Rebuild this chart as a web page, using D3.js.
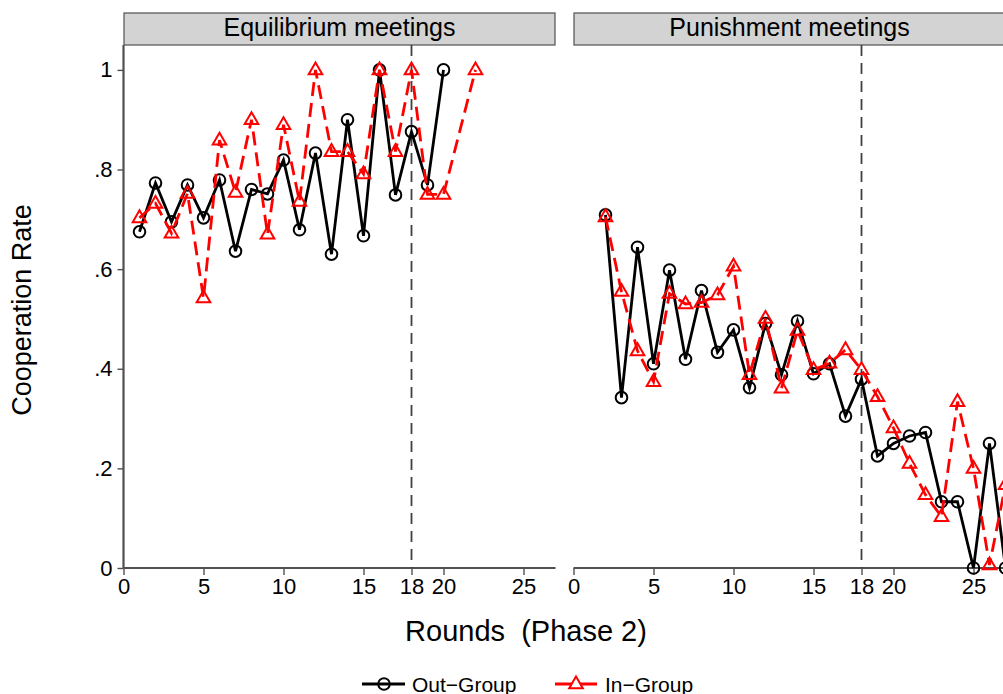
<!DOCTYPE html>
<html>
<head>
<meta charset="utf-8">
<script src="https://cdnjs.cloudflare.com/ajax/libs/d3/7.8.5/d3.min.js"></script>
<style>
  body { margin: 0; background: #fff; }
  svg { display: block; font-family: "Liberation Sans", Arial, Helvetica, sans-serif; }
</style>
</head>
<body>
<svg id="chart" width="1003" height="694"></svg>
<script>
// panels and tick labels
var panels = ["Equilibrium meetings", "Punishment meetings"];
var xTicks = [0, 5, 10, 15, 18, 20, 25];
var yTicks = [0, 0.2, 0.4, 0.6, 0.8, 1];
var yTickLabels = ["0", ".2", ".4", ".6", ".8", "1"];

// Equilibrium meetings
var eqOutRounds = [1,2,3,4,5,6,7,8,9,10,11,12,13,14,15,16,17,18,19,20];
var eqOutRate   = [0.675,0.773,0.695,0.769,0.703,0.779,0.636,0.760,0.751,0.819,
                   0.679,0.833,0.630,0.900,0.667,1.000,0.749,0.876,0.769,1.000];
var eqInRounds  = [1,2,3,4,5,6,7,8,9,10,11,12,13,14,15,16,17,18,19,20,22];
var eqInRate    = [0.703,0.732,0.672,0.752,0.542,0.859,0.754,0.900,0.670,0.890,
                   0.736,1.000,0.836,0.836,0.791,1.000,0.836,1.000,0.750,0.750,1.000];

// Punishment meetings
var puRounds  = [2,3,4,5,6,7,8,9,10,11,12,13,14,15,16,17,18,19,20,21,22,23,24,25,26,27];
var puOutRate = [0.709,0.342,0.644,0.410,0.598,0.419,0.557,0.433,0.478,0.362,0.491,0.388,0.496,
                 0.390,0.410,0.305,0.379,0.225,0.250,0.265,0.272,0.133,0.133,0.000,0.250,0.000];
var puInRate  = [0.705,0.555,0.436,0.374,0.551,0.530,0.533,0.548,0.606,0.388,0.501,0.361,0.477,
                 0.398,0.411,0.438,0.398,0.344,0.281,0.210,0.147,0.103,0.334,0.200,0.006,0.167];

var series = [
  { out: d3.zip(eqOutRounds, eqOutRate), inn: d3.zip(eqInRounds, eqInRate) },
  { out: d3.zip(puRounds, puOutRate),    inn: d3.zip(puRounds, puInRate) }
];

var svg = d3.select("#chart"),
    panelLeft = [123.5, 573.5],
    plotTop = 45,
    plotH = 523,
    plotW = 432;

var x = d3.scaleLinear().domain([0, 27]).range([0, plotW]),
    y = d3.scaleLinear().domain([0, 1.05]).range([plotH, 0]);

var line = d3.line()
    .x(function(d) { return x(d[0]); })
    .y(function(d) { return y(d[1]); });

var triangle = "M0,-7.5L6.8,4.3L-6.8,4.3Z";
var axisColor = "#505050";

panels.forEach(function(title, i) {
  var g = svg.append("g")
      .attr("transform", "translate(" + panelLeft[i] + "," + plotTop + ")");

  // strip
  g.append("rect")
      .attr("x", 0.5).attr("y", -32)
      .attr("width", plotW - 1).attr("height", 32)
      .attr("fill", "#d3d3d3")
      .attr("stroke", axisColor)
      .attr("stroke-width", 1.2);
  g.append("text")
      .attr("x", plotW / 2).attr("y", -18)
      .attr("dy", "0.36em")
      .attr("text-anchor", "middle")
      .attr("font-size", 25)
      .text(title);

  // x axis
  var xAxis = g.append("g")
      .attr("transform", "translate(0," + plotH + ")")
      .call(d3.axisBottom(x).tickValues(xTicks).tickSize(7).tickPadding(3).tickFormat(d3.format("d")));
  xAxis.select(".domain").attr("stroke", axisColor).attr("stroke-width", 2.2)
      .attr("d", "M0,0H" + (i == 0 ? plotW : plotW - 2));
  xAxis.selectAll(".tick line").attr("stroke", axisColor).attr("stroke-width", 1.4);
  xAxis.selectAll(".tick text").attr("font-size", 22).attr("fill", "#000")
      .attr("font-family", "Liberation Sans, Arial, sans-serif");

  // y axis on the first panel only
  if (i == 0) {
    var yAxis = g.append("g")
        .call(d3.axisLeft(y).tickValues(yTicks).tickSize(6).tickPadding(5)
          .tickFormat(function(d, k) { return yTickLabels[k]; }));
    yAxis.select(".domain").attr("stroke", axisColor).attr("stroke-width", 2.2)
        .attr("d", "M0," + plotH + "V0");
    yAxis.selectAll(".tick line").attr("stroke", axisColor).attr("stroke-width", 1.4);
    yAxis.selectAll(".tick text").attr("font-size", 22).attr("fill", "#000")
        .attr("font-family", "Liberation Sans, Arial, sans-serif");
  }

  // reference line at round 18
  g.append("line")
      .attr("x1", x(18)).attr("x2", x(18))
      .attr("y1", 0).attr("y2", plotH)
      .attr("stroke", "#404040")
      .attr("stroke-width", 1.8)
      .attr("stroke-dasharray", "11,7");

  // out-group
  g.append("path")
      .datum(series[i].out)
      .attr("d", line)
      .attr("fill", "none")
      .attr("stroke", "#000")
      .attr("stroke-width", 2.8);
  g.selectAll(".out")
    .data(series[i].out)
    .enter().append("circle")
      .attr("class", "out")
      .attr("cx", function(d) { return x(d[0]); })
      .attr("cy", function(d) { return y(d[1]); })
      .attr("r", 5.8)
      .attr("fill", "none")
      .attr("stroke", "#000")
      .attr("stroke-width", 2);

  // in-group
  g.append("path")
      .datum(series[i].inn)
      .attr("d", line)
      .attr("fill", "none")
      .attr("stroke", "#ff0000")
      .attr("stroke-width", 2.8)
      .attr("stroke-dasharray", "14,7");
  g.selectAll(".inn")
    .data(series[i].inn)
    .enter().append("path")
      .attr("class", "inn")
      .attr("transform", function(d) { return "translate(" + x(d[0]) + "," + y(d[1]) + ")"; })
      .attr("d", triangle)
      .attr("fill", "none")
      .attr("stroke", "#ff0000")
      .attr("stroke-width", 2);
});

// axis titles
svg.append("text")
    .attr("transform", "translate(31,310) rotate(-90)")
    .attr("text-anchor", "middle")
    .attr("font-size", 27)
    .text("Cooperation Rate");

svg.append("text")
    .attr("x", 526).attr("y", 641)
    .attr("text-anchor", "middle")
    .attr("font-size", 29)
    .style("white-space", "pre")
    .text("Rounds  (Phase 2)");

// legend
var legend = svg.append("g").attr("transform", "translate(0,684)");
legend.append("line").attr("x1", 362).attr("x2", 405).attr("stroke", "#000").attr("stroke-width", 3);
legend.append("circle").attr("cx", 384).attr("r", 5.8).attr("fill", "none").attr("stroke", "#000").attr("stroke-width", 2);
legend.append("text").attr("x", 412).attr("dy", "0.36em").attr("font-size", 21).text("Out\u2212Group");
legend.append("line").attr("x1", 555).attr("x2", 597).attr("stroke", "#ff0000").attr("stroke-width", 3);
legend.append("path").attr("transform", "translate(576,0)").attr("d", triangle)
    .attr("fill", "#fff").attr("stroke", "#ff0000").attr("stroke-width", 2);
legend.append("text").attr("x", 605).attr("dy", "0.36em").attr("font-size", 21).text("In\u2212Group");
</script>
</body>
</html>
